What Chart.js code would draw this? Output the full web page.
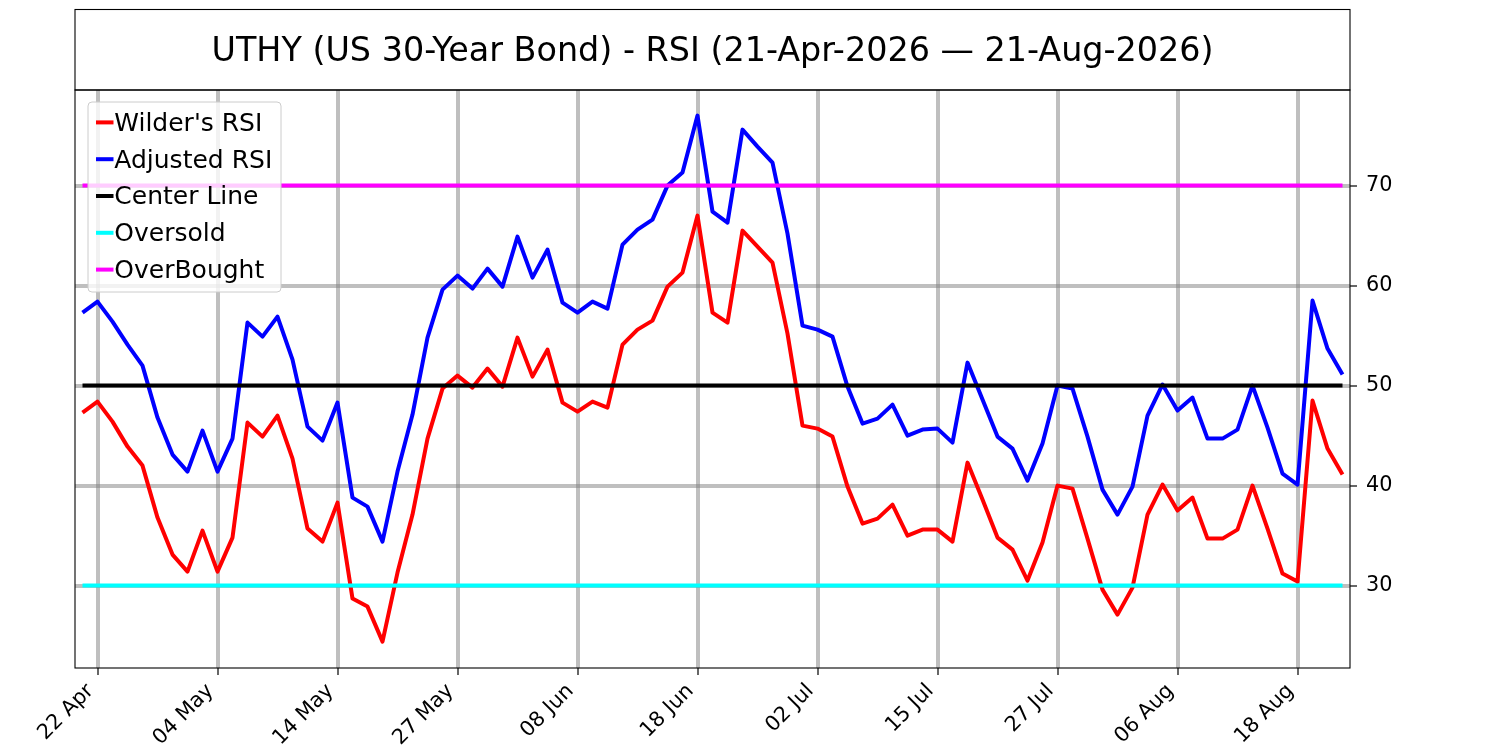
<!DOCTYPE html>
<html>
<head>
<meta charset="utf-8">
<title>UTHY RSI</title>
<script src="https://cdn.jsdelivr.net/npm/chart.js@4.4.1/dist/chart.umd.min.js"></script>
<style>
    html, body { margin: 0; padding: 0; background: #fff; }
    #wrap { width: 1500px; height: 750px; position: relative; }
</style>
</head>
<body>
<div id="wrap"><canvas id="rsi-chart"></canvas></div>
<script>
const chartTitle = 'UTHY (US 30-Year Bond) - RSI (21-Apr-2026 \u2014 21-Aug-2026)';

// x axis: one point per trading day, a date label every 8th day
const tickLabels = ['22 Apr', '04 May', '14 May', '27 May', '08 Jun', '18 Jun',
                    '02 Jul', '15 Jul', '27 Jul', '06 Aug', '18 Aug'];
const firstTickIndex = 1;
const tickStep = 8;

const wildersRsi = [
    47.3, 48.4, 46.4, 43.9, 42.0, 36.8, 33.1, 31.4, 35.5, 31.4,
    34.8, 46.3, 44.9, 47.0, 42.7, 35.7, 34.4, 38.3, 28.7, 27.9,
    24.4, 31.3, 37.1, 44.7, 49.7, 51.0, 49.8, 51.7, 49.9, 54.8,
    50.9, 53.6, 48.3, 47.4, 48.4, 47.8, 54.1, 55.6, 56.5, 59.9,
    61.3, 67.0, 57.3, 56.3, 65.5, 63.9, 62.3, 55.2, 46.0, 45.7,
    44.9, 39.9, 36.2, 36.7, 38.1, 35.0, 35.6, 35.6, 34.4, 42.3,
    38.6, 34.8, 33.6, 30.5, 34.3, 40.0, 39.7, 34.7, 29.6, 27.1,
    29.8, 37.1, 40.1, 37.5, 38.8, 34.7, 34.7, 35.6, 40.0, 35.7,
    31.2, 30.4, 48.5, 43.7, 41.1
];

const adjustedRsi = [
    57.3, 58.4, 56.4, 54.1, 52.0, 46.8, 43.1, 41.4, 45.5, 41.4,
    44.7, 56.3, 54.9, 56.9, 52.6, 45.9, 44.5, 48.3, 38.8, 37.9,
    34.4, 41.4, 47.1, 54.8, 59.6, 61.0, 59.7, 61.7, 59.9, 64.9,
    60.8, 63.6, 58.3, 57.3, 58.4, 57.7, 64.1, 65.6, 66.6, 70.0,
    71.3, 77.0, 67.4, 66.3, 75.6, 73.9, 72.3, 65.2, 56.0, 55.6,
    54.9, 49.9, 46.2, 46.7, 48.1, 45.0, 45.6, 45.7, 44.3, 52.3,
    48.6, 44.9, 43.7, 40.5, 44.2, 50.0, 49.7, 44.9, 39.6, 37.1,
    39.9, 47.0, 50.1, 47.5, 48.8, 44.7, 44.7, 45.6, 50.0, 45.8,
    41.2, 40.1, 58.5, 53.7, 51.1
];

const centerLevel = 50;
const oversoldLevel = 30;
const overboughtLevel = 70;

const yTicks = [30, 40, 50, 60, 70];
const yMin = 21.76;
const yMax = 79.56;

function isTickIndex(i) {
    return i >= firstTickIndex && (i - firstTickIndex) % tickStep === 0;
}

const dayLabels = wildersRsi.map((_, i) =>
    isTickIndex(i) ? tickLabels[(i - firstTickIndex) / tickStep] : '');

const FONT = '"DejaVu Sans", "Liberation Sans", sans-serif';
const GRID = 'rgba(128,128,128,0.5)';
const NONE = 'rgba(0,0,0,0)';

// axes frame + boxed title above the plot
const framePlugin = {
    id: 'frame',
    afterDatasetsDraw(chart) {
        const { ctx, chartArea: a } = chart;
        ctx.save();
        ctx.strokeStyle = '#000';
        ctx.lineWidth = 1.1;
        ctx.strokeRect(a.left, a.top, a.right - a.left, a.bottom - a.top);
        ctx.strokeRect(a.left, 9.5, a.right - a.left, a.top - 9.5);
        ctx.fillStyle = '#000';
        ctx.font = '33.4px ' + FONT;
        ctx.textAlign = 'center';
        ctx.textBaseline = 'alphabetic';
        ctx.fillText(chartTitle, (a.left + a.right) / 2, 60.5);
        ctx.restore();
    }
};

// matplotlib style legend box in the upper left corner
const boxLegendPlugin = {
    id: 'boxLegend',
    afterDraw(chart) {
        const { ctx, chartArea: a } = chart;
        const x = a.left + 13, y = a.top + 12, w = 193, h = 190;
        ctx.save();
        ctx.beginPath();
        ctx.roundRect(x, y, w, h, 4);
        ctx.fillStyle = 'rgba(255,255,255,0.8)';
        ctx.fill();
        ctx.strokeStyle = '#cccccc';
        ctx.lineWidth = 1;
        ctx.stroke();
        ctx.font = '25px ' + FONT;
        ctx.textAlign = 'left';
        ctx.textBaseline = 'alphabetic';
        chart.data.datasets.forEach((ds, i) => {
            const rowY = y + 20.4 + i * 36.8;
            ctx.strokeStyle = ds.borderColor;
            ctx.lineWidth = 4;
            ctx.beginPath();
            ctx.moveTo(x + 8, rowY);
            ctx.lineTo(x + 25.5, rowY);
            ctx.stroke();
            ctx.fillStyle = '#000';
            ctx.fillText(ds.label, x + 26.3, rowY + 8.3);
        });
        ctx.restore();
    }
};

function levelLine(label, level, color, order) {
    return {
        label: label,
        data: wildersRsi.map(() => level),
        borderColor: color,
        borderWidth: 4,
        order: order
    };
}

const ctx = document.getElementById('rsi-chart').getContext('2d');
new Chart(ctx, {
    type: 'line',
    data: {
        labels: dayLabels,
        datasets: [
            { label: "Wilder's RSI", data: wildersRsi, borderColor: '#ff0000', borderWidth: 4, order: 5 },
            { label: 'Adjusted RSI', data: adjustedRsi, borderColor: '#0000ff', borderWidth: 4, order: 4 },
            levelLine('Center Line', centerLevel, '#000000', 3),
            levelLine('Oversold', oversoldLevel, '#00ffff', 2),
            levelLine('OverBought', overboughtLevel, '#ff00ff', 1)
        ]
    },
    options: {
        responsive: true,
        maintainAspectRatio: false,
        animation: false,
        devicePixelRatio: 1,
        layout: { padding: { left: 75, top: 90, right: 0, bottom: 0 } },
        elements: {
            point: { radius: 0 },
            line: { tension: 0, fill: false, borderJoinStyle: 'round' }
        },
        plugins: {
            legend: { display: false },
            title: { display: false },
            tooltip: { enabled: false }
        },
        scales: {
            x: {
                type: 'category',
                offset: true,
                afterFit(scale) { scale.height = 82; },
                border: { display: false },
                grid: {
                    color: c => isTickIndex(c.index) ? GRID : NONE,
                    lineWidth: 4,
                    tickLength: 7,
                    tickWidth: 1.2,
                    tickColor: c => isTickIndex(c.index) ? '#000' : NONE
                },
                ticks: {
                    autoSkip: false,
                    maxRotation: 45,
                    minRotation: 45,
                    padding: 4,
                    labelOffset: -7,
                    color: '#000',
                    font: { family: FONT, size: 20.8 }
                }
            },
            y: {
                position: 'right',
                min: yMin,
                max: yMax,
                afterFit(scale) { scale.width = 150; },
                afterBuildTicks(scale) { scale.ticks = yTicks.map(v => ({ value: v })); },
                border: { display: false },
                grid: {
                    color: GRID,
                    lineWidth: 4,
                    tickLength: 7,
                    tickWidth: 1.2,
                    tickColor: '#000'
                },
                ticks: {
                    padding: 9,
                    color: '#000',
                    font: { family: FONT, size: 20.8 }
                }
            }
        }
    },
    plugins: [framePlugin, boxLegendPlugin]
});
</script>
</body>
</html>
